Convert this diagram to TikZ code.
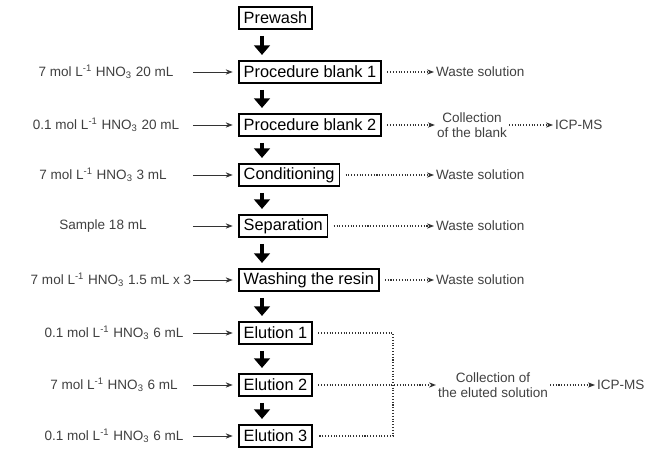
\documentclass[tikz,border=0pt]{standalone}
\usepackage{fontspec}
\setmainfont{Liberation Sans}
\usetikzlibrary{arrows.meta}

\tikzset{
  stepbox/.style={draw,line width=0.9pt,anchor=west,inner xsep=2.8pt,inner ysep=1pt,
    minimum height=0.44cm,font=\fontsize{9.3}{11}\selectfont},
  lbl/.style={text=black!75,font=\fontsize{7.7}{8.4}\selectfont,align=center,inner sep=1pt},
  feed/.style={-{Stealth[length=4pt,width=3pt]},line width=0.5pt,black!80},
  drain/.style={densely dotted,-{Stealth[length=4pt,width=3pt]},line width=0.6pt,black!80},
  flowarrow/.style={line width=2.2pt,-{Triangle[length=5.5pt,width=9pt]}},
}

\begin{document}
\begin{tikzpicture}[x=0.02cm,y=-0.02cm]
  \useasboundingbox (0,0) rectangle (654,450);

  % Column of procedure steps
  \foreach \n/\y/\t in {pw/18/Prewash,pb1/72/Procedure blank 1,pb2/125/Procedure blank 2,
      cond/175/Conditioning,sep/226/Separation,wash/280/Washing the resin,
      el1/333/Elution 1,el2/385/Elution 2,el3/436/Elution 3} {%
    \node[stepbox] (\n) at (238,\y) {\t};
  }

  % Thick arrows between the steps
  \foreach \a/\b in {pw/pb1,pb1/pb2,pb2/cond,cond/sep,sep/wash,wash/el1,el1/el2,el2/el3} {%
    \draw[flowarrow] ([xshift=0.48cm,yshift=-3.5pt]\a.south west) -- ([xshift=0.48cm,yshift=3pt]\b.north west);
  }

  % Reagents fed into each step
  \foreach \n/\y/\x/\t in {pb1/72/106/7 mol L\textsuperscript{-1} HNO\textsubscript{3} 20 mL,
      pb2/125/106/0.1 mol L\textsuperscript{-1} HNO\textsubscript{3} 20 mL,
      cond/175/103/7 mol L\textsuperscript{-1} HNO\textsubscript{3} 3 mL,
      sep/226/103/Sample 18 mL,
      wash/280/111/7 mol L\textsuperscript{-1} HNO\textsubscript{3} 1.5 mL x 3,
      el1/333/114/0.1 mol L\textsuperscript{-1} HNO\textsubscript{3} 6 mL,
      el2/385/114/7 mol L\textsuperscript{-1} HNO\textsubscript{3} 6 mL,
      el3/436/114/0.1 mol L\textsuperscript{-1} HNO\textsubscript{3} 6 mL} {%
    \node[lbl] (in-\n) at (\x,\y) {\t};
    \coordinate (src-\n) at (193,\y);
    \draw[feed] (src-\n) -- ([xshift=-3pt]\n.west);
  }

  % Waste outlets
  \foreach \n/\y in {pb1/72,cond/175,sep/226,wash/280} {%
    \node[lbl,anchor=west] (out-\n) at (434,\y) {Waste solution};
    \draw[drain] ([xshift=3pt]\n.east) -- (out-\n.west);
  }

  % Blank collection
  \node[lbl] (blank) at (472,125) {Collection\\of the blank};
  \node[lbl,anchor=west] (icp1) at (553,125) {ICP-MS};
  \draw[drain] ([xshift=3pt]pb2.east) -- (blank.west);
  \draw[drain] (blank.east) -- (icp1.west);

  % Eluates gathered together
  \coordinate (top) at (393,333);
  \coordinate (mid) at (393,385);
  \coordinate (bot) at (393,436);
  \node[lbl] (eluate) at (493,385) {Collection of\\the eluted solution};
  \node[lbl,anchor=west] (icp2) at (595,385) {ICP-MS};
  \draw[densely dotted,line width=0.6pt,black!80] ([xshift=3pt]el1.east) -- (top) -- (bot) -- ([xshift=3pt]el3.east);
  \draw[drain] ([xshift=3pt]el2.east) -- (mid) -- (eluate.west);
  \draw[drain] (eluate.east) -- (icp2.west);

\end{tikzpicture}
\end{document}
